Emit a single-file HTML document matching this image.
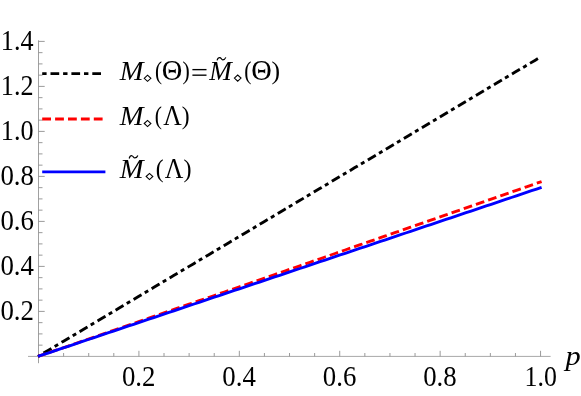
<!DOCTYPE html>
<html><head><meta charset="utf-8"><title>plot</title>
<style>html,body{margin:0;padding:0;background:#fff;}svg{display:block;will-change:transform;}text{font-family:"Liberation Serif",serif;fill:#000;}</style>
</head><body>
<svg width="581" height="396" viewBox="0 0 581 396">
<rect width="581" height="396" fill="#fff"/>
<g stroke="#8f8f8f" stroke-width="0.85" fill="none">
<line x1="28" y1="356.4" x2="550.6" y2="356.4" stroke-width="0.78"/>
<line x1="38.5" y1="40.3" x2="38.5" y2="363.2"/>
<line x1="63.60" y1="356.4" x2="63.60" y2="353.0" stroke-width="0.9"/>
<line x1="88.71" y1="356.4" x2="88.71" y2="353.0" stroke-width="0.9"/>
<line x1="113.81" y1="356.4" x2="113.81" y2="353.0" stroke-width="0.9"/>
<line x1="138.91" y1="356.4" x2="138.91" y2="350.79999999999995" stroke-width="0.9"/>
<line x1="164.01" y1="356.4" x2="164.01" y2="353.0" stroke-width="0.9"/>
<line x1="189.12" y1="356.4" x2="189.12" y2="353.0" stroke-width="0.9"/>
<line x1="214.22" y1="356.4" x2="214.22" y2="353.0" stroke-width="0.9"/>
<line x1="239.32" y1="356.4" x2="239.32" y2="350.79999999999995" stroke-width="0.9"/>
<line x1="264.42" y1="356.4" x2="264.42" y2="353.0" stroke-width="0.9"/>
<line x1="289.52" y1="356.4" x2="289.52" y2="353.0" stroke-width="0.9"/>
<line x1="314.63" y1="356.4" x2="314.63" y2="353.0" stroke-width="0.9"/>
<line x1="339.73" y1="356.4" x2="339.73" y2="350.79999999999995" stroke-width="0.9"/>
<line x1="364.83" y1="356.4" x2="364.83" y2="353.0" stroke-width="0.9"/>
<line x1="389.94" y1="356.4" x2="389.94" y2="353.0" stroke-width="0.9"/>
<line x1="415.04" y1="356.4" x2="415.04" y2="353.0" stroke-width="0.9"/>
<line x1="440.14" y1="356.4" x2="440.14" y2="350.79999999999995" stroke-width="0.9"/>
<line x1="465.24" y1="356.4" x2="465.24" y2="353.0" stroke-width="0.9"/>
<line x1="490.35" y1="356.4" x2="490.35" y2="353.0" stroke-width="0.9"/>
<line x1="515.45" y1="356.4" x2="515.45" y2="353.0" stroke-width="0.9"/>
<line x1="540.55" y1="356.4" x2="540.55" y2="350.79999999999995" stroke-width="0.9"/>
<line x1="38.5" y1="345.15" x2="42.5" y2="345.15" stroke-width="0.9"/>
<line x1="38.5" y1="333.90" x2="42.5" y2="333.90" stroke-width="0.9"/>
<line x1="38.5" y1="322.65" x2="42.5" y2="322.65" stroke-width="0.9"/>
<line x1="38.5" y1="311.40" x2="44.7" y2="311.40" stroke-width="0.9"/>
<line x1="38.5" y1="300.15" x2="42.5" y2="300.15" stroke-width="0.9"/>
<line x1="38.5" y1="288.90" x2="42.5" y2="288.90" stroke-width="0.9"/>
<line x1="38.5" y1="277.65" x2="42.5" y2="277.65" stroke-width="0.9"/>
<line x1="38.5" y1="266.40" x2="44.7" y2="266.40" stroke-width="0.9"/>
<line x1="38.5" y1="255.15" x2="42.5" y2="255.15" stroke-width="0.9"/>
<line x1="38.5" y1="243.90" x2="42.5" y2="243.90" stroke-width="0.9"/>
<line x1="38.5" y1="232.65" x2="42.5" y2="232.65" stroke-width="0.9"/>
<line x1="38.5" y1="221.40" x2="44.7" y2="221.40" stroke-width="0.9"/>
<line x1="38.5" y1="210.15" x2="42.5" y2="210.15" stroke-width="0.9"/>
<line x1="38.5" y1="198.90" x2="42.5" y2="198.90" stroke-width="0.9"/>
<line x1="38.5" y1="187.65" x2="42.5" y2="187.65" stroke-width="0.9"/>
<line x1="38.5" y1="176.40" x2="44.7" y2="176.40" stroke-width="0.9"/>
<line x1="38.5" y1="165.15" x2="42.5" y2="165.15" stroke-width="0.9"/>
<line x1="38.5" y1="153.90" x2="42.5" y2="153.90" stroke-width="0.9"/>
<line x1="38.5" y1="142.65" x2="42.5" y2="142.65" stroke-width="0.9"/>
<line x1="38.5" y1="131.40" x2="44.7" y2="131.40" stroke-width="0.9"/>
<line x1="38.5" y1="120.15" x2="42.5" y2="120.15" stroke-width="0.9"/>
<line x1="38.5" y1="108.90" x2="42.5" y2="108.90" stroke-width="0.9"/>
<line x1="38.5" y1="97.65" x2="42.5" y2="97.65" stroke-width="0.9"/>
<line x1="38.5" y1="86.40" x2="44.7" y2="86.40" stroke-width="0.9"/>
<line x1="38.5" y1="75.15" x2="42.5" y2="75.15" stroke-width="0.9"/>
<line x1="38.5" y1="63.90" x2="42.5" y2="63.90" stroke-width="0.9"/>
<line x1="38.5" y1="52.65" x2="42.5" y2="52.65" stroke-width="0.9"/>
<line x1="38.5" y1="41.40" x2="44.7" y2="41.40" stroke-width="0.9"/>
</g>
<text transform="translate(138.71,385.60) scale(0.965,1.05)" font-size="27.8" text-anchor="middle">0.2</text>
<text transform="translate(239.12,385.60) scale(0.965,1.05)" font-size="27.8" text-anchor="middle">0.4</text>
<text transform="translate(339.53,385.60) scale(0.965,1.05)" font-size="27.8" text-anchor="middle">0.6</text>
<text transform="translate(439.94,385.60) scale(0.965,1.05)" font-size="27.8" text-anchor="middle">0.8</text>
<text transform="translate(540.65,385.60) scale(0.93,1.05)" font-size="27.8" text-anchor="middle">1.0</text>
<text transform="translate(33.90,319.80) scale(0.965,1.07)" font-size="27.8" text-anchor="end">0.2</text>
<text transform="translate(33.90,274.80) scale(0.965,1.07)" font-size="27.8" text-anchor="end">0.4</text>
<text transform="translate(33.90,229.80) scale(0.965,1.07)" font-size="27.8" text-anchor="end">0.6</text>
<text transform="translate(33.90,184.80) scale(0.965,1.07)" font-size="27.8" text-anchor="end">0.8</text>
<text transform="translate(33.50,139.80) scale(0.94,1.07)" font-size="27.8" text-anchor="end">1.0</text>
<text transform="translate(33.50,94.80) scale(0.94,1.07)" font-size="27.8" text-anchor="end">1.2</text>
<text transform="translate(33.50,49.80) scale(0.94,1.07)" font-size="27.8" text-anchor="end">1.4</text>
<text transform="translate(565.45,364.70) scale(1.085,0.94)" font-size="28" text-anchor="start" font-style="italic">p</text>
<polyline points="38.00,356.40 43.02,353.41 48.05,350.41 53.07,347.42 58.09,344.43 63.12,341.44 68.14,338.44 73.16,335.45 78.19,332.46 83.21,329.47 88.23,326.47 93.26,323.48 98.28,320.49 103.30,317.50 108.33,314.50 113.35,311.51 118.37,308.52 123.40,305.53 128.42,302.53 133.44,299.54 138.47,296.55 143.49,293.56 148.52,290.56 153.54,287.57 158.56,284.58 163.59,281.59 168.61,278.59 173.63,275.60 178.66,272.61 183.68,269.62 188.70,266.62 193.73,263.63 198.75,260.64 203.77,257.65 208.80,254.65 213.82,251.66 218.84,248.67 223.87,245.68 228.89,242.69 233.91,239.69 238.94,236.70 243.96,233.71 248.98,230.71 254.01,227.72 259.03,224.73 264.05,221.74 269.08,218.74 274.10,215.75 279.12,212.76 284.15,209.77 289.17,206.77 294.19,203.78 299.22,200.79 304.24,197.80 309.26,194.80 314.29,191.81 319.31,188.82 324.33,185.83 329.36,182.83 334.38,179.84 339.40,176.85 344.43,173.86 349.45,170.86 354.47,167.87 359.50,164.88 364.52,161.89 369.55,158.89 374.57,155.90 379.59,152.91 384.62,149.92 389.64,146.92 394.66,143.93 399.69,140.94 404.71,137.95 409.73,134.95 414.76,131.96 419.78,128.97 424.80,125.98 429.83,122.98 434.85,119.99 439.87,117.00 444.90,114.01 449.92,111.01 454.94,108.02 459.97,105.03 464.99,102.04 470.01,99.05 475.04,96.05 480.06,93.06 485.08,90.07 490.11,87.07 495.13,84.08 500.15,81.09 505.18,78.10 510.20,75.10 515.22,72.11 520.25,69.12 525.27,66.13 530.29,63.13 535.32,60.14 540.34,57.15" fill="none" stroke="#000" stroke-width="2.9" stroke-dasharray="4.0 4.0 9.2 3.772" stroke-dashoffset="1.55"/>
<polyline points="38.00,356.40 43.04,354.68 48.07,352.95 53.11,351.23 58.14,349.50 63.18,347.76 68.22,346.03 73.25,344.29 78.29,342.56 83.32,340.82 88.36,339.08 93.40,337.35 98.43,335.61 103.47,333.87 108.50,332.13 113.54,330.39 118.58,328.65 123.61,326.91 128.65,325.16 133.68,323.42 138.72,321.68 143.76,319.94 148.79,318.19 153.83,316.45 158.86,314.71 163.90,312.96 168.94,311.22 173.97,309.47 179.01,307.73 184.04,305.98 189.08,304.23 194.12,302.49 199.15,300.74 204.19,298.99 209.22,297.25 214.26,295.50 219.30,293.75 224.33,292.00 229.37,290.26 234.40,288.51 239.44,286.76 244.48,285.01 249.51,283.26 254.55,281.51 259.58,279.76 264.62,278.01 269.66,276.26 274.69,274.51 279.73,272.76 284.76,271.01 289.80,269.26 294.84,267.51 299.87,265.76 304.91,264.01 309.94,262.26 314.98,260.51 320.02,258.76 325.05,257.00 330.09,255.25 335.12,253.50 340.16,251.75 345.20,250.00 350.23,248.24 355.27,246.49 360.30,244.74 365.34,242.99 370.38,241.23 375.41,239.48 380.45,237.73 385.48,235.97 390.52,234.22 395.56,232.46 400.59,230.71 405.63,228.96 410.66,227.20 415.70,225.45 420.74,223.69 425.77,221.94 430.81,220.18 435.84,218.43 440.88,216.67 445.92,214.92 450.95,213.16 455.99,211.41 461.02,209.65 466.06,207.90 471.10,206.14 476.13,204.39 481.17,202.63 486.20,200.88 491.24,199.12 496.28,197.36 501.31,195.61 506.35,193.85 511.38,192.09 516.42,190.34 521.46,188.58 526.49,186.82 531.53,185.07 536.56,183.31 541.60,181.55" fill="none" stroke="#ff0000" stroke-width="2.9" stroke-dasharray="8.8 4.1" stroke-dashoffset="0.85"/>
<polyline points="38.00,356.40 43.04,354.71 48.07,353.02 53.11,351.33 58.14,349.64 63.18,347.95 68.22,346.26 73.25,344.57 78.29,342.88 83.32,341.19 88.36,339.50 93.40,337.81 98.43,336.11 103.47,334.42 108.50,332.73 113.54,331.04 118.58,329.35 123.61,327.66 128.65,325.97 133.68,324.28 138.72,322.59 143.76,320.90 148.79,319.21 153.83,317.52 158.86,315.83 163.90,314.14 168.94,312.45 173.97,310.76 179.01,309.07 184.04,307.38 189.08,305.69 194.12,304.00 199.15,302.31 204.19,300.62 209.22,298.93 214.26,297.24 219.30,295.54 224.33,293.85 229.37,292.16 234.40,290.47 239.44,288.78 244.48,287.09 249.51,285.40 254.55,283.71 259.58,282.02 264.62,280.33 269.66,278.64 274.69,276.95 279.73,275.26 284.76,273.57 289.80,271.88 294.84,270.19 299.87,268.50 304.91,266.81 309.94,265.12 314.98,263.43 320.02,261.74 325.05,260.05 330.09,258.36 335.12,256.66 340.16,254.97 345.20,253.28 350.23,251.59 355.27,249.90 360.30,248.21 365.34,246.52 370.38,244.83 375.41,243.14 380.45,241.45 385.48,239.76 390.52,238.07 395.56,236.38 400.59,234.69 405.63,233.00 410.66,231.31 415.70,229.62 420.74,227.93 425.77,226.24 430.81,224.55 435.84,222.86 440.88,221.17 445.92,219.48 450.95,217.79 455.99,216.09 461.02,214.40 466.06,212.71 471.10,211.02 476.13,209.33 481.17,207.64 486.20,205.95 491.24,204.26 496.28,202.57 501.31,200.88 506.35,199.19 511.38,197.50 516.42,195.81 521.46,194.12 526.49,192.43 531.53,190.74 536.56,189.05 541.60,187.36" fill="none" stroke="#0000ff" stroke-width="2.9"/>
<line x1="42.2" y1="73.6" x2="101.8" y2="73.6" stroke="#000" stroke-width="2.9" stroke-dasharray="4.4 3.9 8.7 3.9"/>
<line x1="42.2" y1="119.0" x2="102.8" y2="119.0" stroke="#ff0000" stroke-width="2.9" stroke-dasharray="8.8 4.1"/>
<line x1="42.2" y1="171.85" x2="105.4" y2="171.85" stroke="#0000ff" stroke-width="2.9"/>
<text transform="translate(119.84,80.00) scale(1.0193,1)" font-size="28" text-anchor="start" font-style="italic">M</text>
<path d="M144.20000000000002,78.3 L147.55,75.2 L150.9,78.3 L147.55,81.39999999999999 Z" fill="none" stroke="#000" stroke-width="1.05"/>
<text transform="translate(155.10,78.90) scale(0.7563,0.908)" font-size="28" text-anchor="start">(</text>
<text transform="translate(161.86,80.00) scale(1.0184,1.06)" font-size="28" text-anchor="start">O</text><path d="M168.67499999999998,68.45 Q169.385,70.0 170.9825,70.0 L173.4675,70.0 Q175.065,70.0 175.775,68.45 L175.775,73.85000000000001 Q175.065,72.30000000000001 173.4675,72.30000000000001 L170.9825,72.30000000000001 Q169.385,72.30000000000001 168.67499999999998,73.85000000000001 Z" fill="#000"/>
<text transform="translate(182.49,78.90) scale(0.783,0.908)" font-size="28" text-anchor="start">)</text>
<rect x="192.4" y="68.95" width="14.1" height="1.35" fill="#000"/><rect x="192.4" y="74.5" width="14.1" height="1.35" fill="#000"/>
<text transform="translate(209.22,80.00) scale(0.9671,1)" font-size="28" text-anchor="start" font-style="italic">M</text>
<path d="M217.08,60.31 C217.63,58.38 218.72,57.55 219.90,57.67 C221.09,57.80 221.45,59.72 222.72,59.78 C224.18,59.84 225.27,58.70 225.82,57.39" fill="none" stroke="#000" stroke-width="1.2"/>
<path d="M234.35,78.1 L237.7,75.0 L241.04999999999998,78.1 L237.7,81.19999999999999 Z" fill="none" stroke="#000" stroke-width="1.05"/>
<text transform="translate(244.28,78.90) scale(0.7703,0.908)" font-size="28" text-anchor="start">(</text>
<text transform="translate(251.31,80.00) scale(1.0156,1.06)" font-size="28" text-anchor="start">O</text><path d="M258.09999999999997,68.45 Q258.81,70.0 260.40749999999997,70.0 L262.8925,70.0 Q264.48999999999995,70.0 265.2,68.45 L265.2,73.85000000000001 Q264.48999999999995,72.30000000000001 262.8925,72.30000000000001 L260.40749999999997,72.30000000000001 Q258.81,72.30000000000001 258.09999999999997,73.85000000000001 Z" fill="#000"/>
<text transform="translate(271.58,78.90) scale(0.9203,0.908)" font-size="28" text-anchor="start">)</text>
<text transform="translate(119.84,125.00) scale(1.0193,1)" font-size="28" text-anchor="start" font-style="italic">M</text>
<path d="M144.20000000000002,123.5 L147.55,120.4 L150.9,123.5 L147.55,126.6 Z" fill="none" stroke="#000" stroke-width="1.05"/>
<text transform="translate(154.78,123.90) scale(0.7703,0.908)" font-size="28" text-anchor="start">(</text>
<text transform="translate(163.24,125.00) scale(0.9144,1.04)" font-size="28" text-anchor="start">Λ</text>
<text transform="translate(181.79,123.90) scale(0.8448,0.908)" font-size="28" text-anchor="start">)</text>
<text transform="translate(119.64,178.00) scale(1.0233,1)" font-size="28" text-anchor="start" font-style="italic">M</text>
<path d="M129.18,158.50 C129.72,156.49 130.80,155.61 131.97,155.74 C133.14,155.87 133.50,157.88 134.76,157.95 C136.20,158.01 137.28,156.81 137.82,155.45" fill="none" stroke="#000" stroke-width="1.2"/>
<path d="M146.15,176.5 L149.5,173.4 L152.85,176.5 L149.5,179.6 Z" fill="none" stroke="#000" stroke-width="1.05"/>
<text transform="translate(155.79,176.90) scale(0.8403,0.908)" font-size="28" text-anchor="start">(</text>
<text transform="translate(164.79,178.00) scale(0.9169,1.04)" font-size="28" text-anchor="start">Λ</text>
<text transform="translate(183.52,176.90) scale(0.8654,0.908)" font-size="28" text-anchor="start">)</text>
</svg></body></html>
